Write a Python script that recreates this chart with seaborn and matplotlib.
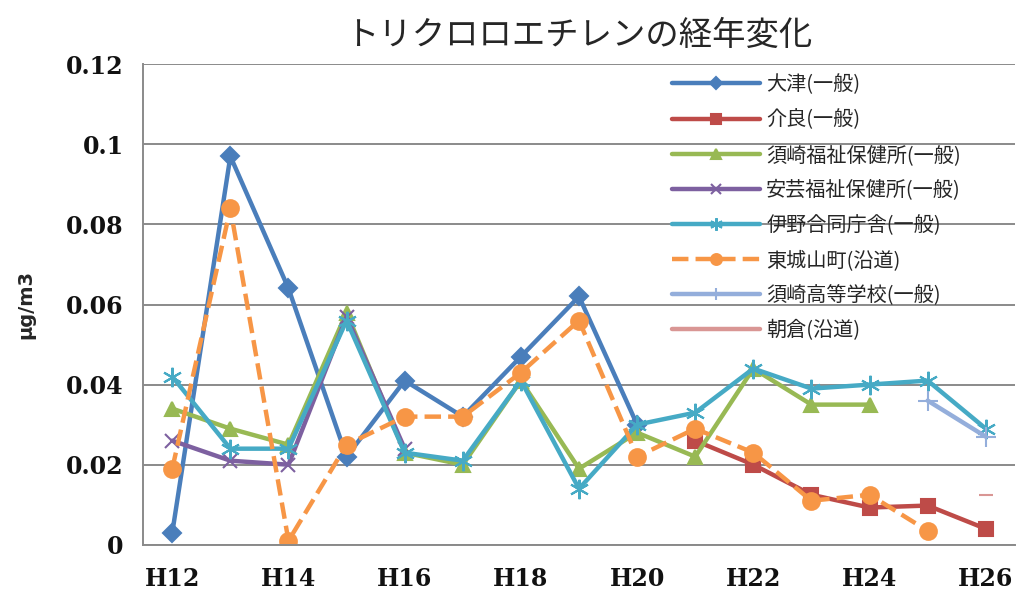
import matplotlib
matplotlib.use("Agg")
import matplotlib.pyplot as plt
import numpy as np
import pandas as pd
import seaborn as sns

nan = np.nan

# fiscal years (Heisei)
years = ["H12", "H13", "H14", "H15", "H16", "H17", "H18", "H19",
         "H20", "H21", "H22", "H23", "H24", "H25", "H26"]

otsu = [0.003, 0.097, 0.064, 0.022, 0.041, 0.032, 0.047, 0.062,
        0.030, nan, nan, nan, nan, nan, nan]
kera = [nan, nan, nan, nan, nan, nan, nan, nan,
        nan, 0.026, 0.020, 0.0125, 0.0093, 0.0098, 0.004]
susaki_hc = [0.034, 0.029, 0.025, 0.058, 0.023, 0.020, 0.041, 0.019,
             0.028, 0.022, 0.044, 0.035, 0.035, nan, nan]
aki_hc = [0.026, 0.021, 0.020, 0.057, 0.024, nan, nan, nan,
          nan, nan, nan, nan, nan, nan, nan]
ino = [0.042, 0.024, 0.024, 0.056, 0.023, 0.021, 0.041, 0.014,
       0.030, 0.033, 0.044, 0.039, 0.040, 0.041, 0.029]
higashi = [0.019, 0.084, 0.001, 0.025, 0.032, 0.032, 0.043, 0.056,
           0.022, 0.029, 0.023, 0.011, 0.0125, 0.0035, nan]
susaki_hs = [nan, nan, nan, nan, nan, nan, nan, nan,
             nan, nan, nan, nan, nan, 0.036, 0.027]
asakura = [nan, nan, nan, nan, nan, nan, nan, nan,
           nan, nan, nan, nan, nan, nan, 0.0125]

series_names = ["大津(一般)", "介良(一般)", "須崎福祉保健所(一般)", "安芸福祉保健所(一般)",
                "伊野合同庁舎(一般)", "東城山町(沿道)", "須崎高等学校(一般)", "朝倉(沿道)"]
series_values = [otsu, kera, susaki_hc, aki_hc, ino, higashi, susaki_hs, asakura]

colors = ["#4A7EBB", "#BE4B48", "#98B954", "#7D60A0",
          "#46AAC5", "#F79646", "#94AEDB", "#D99694"]
markers = ["D", "s", "^", "x", (6, 2, 0), "o", "+", "_"]
linestyles = ["-", "-", "-", "-", "-", "--", "-", "-"]
msizes = [9, 10, 10, 10, 14, 12, 14, 10]

sns.set_theme(style="white")
plt.rcParams["font.family"] = ["Noto Sans CJK JP", "DejaVu Sans"]

fig = plt.figure(figsize=(10.23, 6), dpi=100)
ax = fig.add_axes([0.14, 0.092, 0.852, 0.801])

for name, vals, c, m, ls, ms in zip(series_names, series_values, colors,
                                     markers, linestyles, msizes):
    df = pd.DataFrame({"x": np.arange(len(years)), "y": vals}).dropna()
    sns.lineplot(data=df, x="x", y="y", ax=ax, color=c, marker=m,
                 linestyle=ls, linewidth=3.2, markersize=ms,
                 markeredgecolor=c, markeredgewidth=1.5,
                 label=name, sort=False)

ax.set_xlim(-0.5, 14.5)
ax.set_ylim(0, 0.12)
ax.set_yticks([0, 0.02, 0.04, 0.06, 0.08, 0.1, 0.12])
ax.set_yticklabels(["0", "0.02", "0.04", "0.06", "0.08", "0.1", "0.12"],
                   family="DejaVu Serif", fontweight="bold", fontsize=17)
ax.set_xticks(np.arange(0, len(years), 2))
ax.set_xticklabels(years[::2], family="DejaVu Serif", fontweight="bold",
                   fontsize=17)
ax.tick_params(axis="y", length=0, pad=14, colors="#111111")
ax.tick_params(axis="x", length=0, pad=16, colors="#111111")
ax.yaxis.grid(True, color="#8a8a8a", linewidth=1.4)
ax.set_axisbelow(True)
for side in ["top", "right"]:
    ax.spines[side].set_visible(False)
for side in ["left", "bottom"]:
    ax.spines[side].set_color("#8a8a8a")
    ax.spines[side].set_linewidth(1.4)

ax.set_xlabel("")
ax.set_ylabel("μg/m3", fontsize=14, fontweight="bold", family="DejaVu Sans",
              labelpad=22)
ax.set_title("トリクロロエチレンの経年変化", fontsize=24, pad=14)

leg = ax.legend(loc="upper left", bbox_to_anchor=(0.59, 1.008), frameon=False,
                fontsize=14.5, handlelength=4.4, labelspacing=0.7,
                handletextpad=0.3, borderaxespad=0.3, markerscale=0.65)

fig.savefig("out.png", dpi=100)
